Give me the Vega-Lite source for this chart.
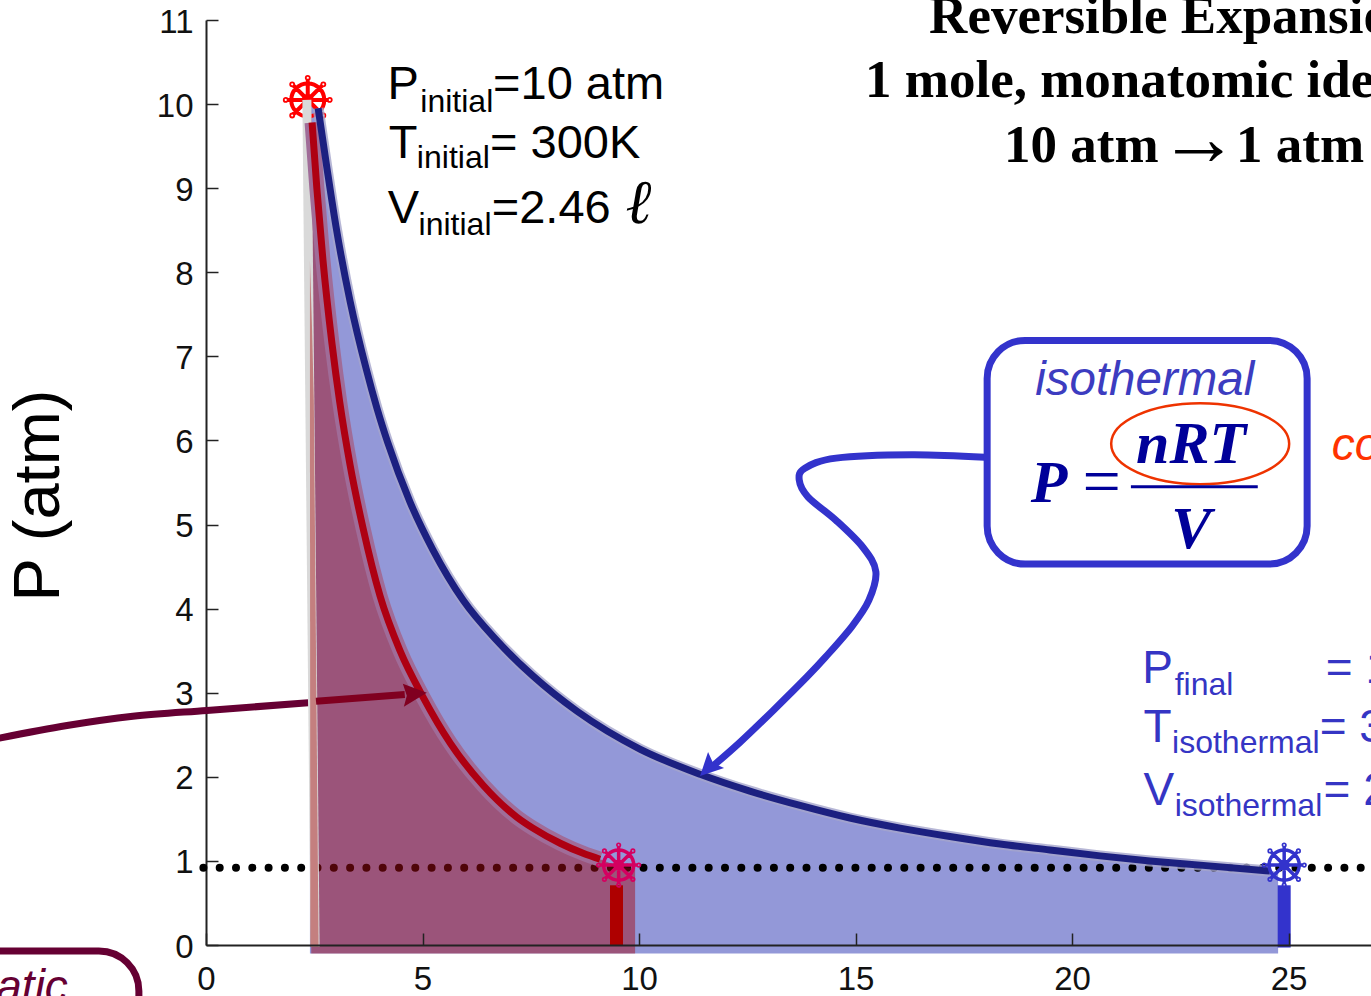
{
"$schema":"https://vega.github.io/schema/vega-lite/v6.json",
"width":1165,"height":925,
"autosize":{"type":"none"},
"padding":{"left":206,"top":20,"right":0,"bottom":51},
"background":"white",
"config":{"view":{"stroke":null}},
"datasets":{
"iso":[{"x":2.40,"y":10.0},{"x":2.59,"y":9.95},{"x":2.79,"y":9.25},{"x":3.00,"y":8.55},{"x":3.33,"y":7.65},{"x":3.70,"y":6.85},{"x":3.95,"y":6.38},{"x":4.20,"y":5.97},{"x":4.71,"y":5.27},{"x":5.24,"y":4.70},{"x":5.94,"y":4.10},{"x":6.72,"y":3.62},{"x":7.55,"y":3.20},{"x":8.57,"y":2.78},{"x":10.02,"y":2.33},{"x":11.41,"y":2.03},{"x":12.56,"y":1.83},{"x":13.72,"y":1.66},{"x":14.87,"y":1.51},{"x":16.03,"y":1.39},{"x":17.18,"y":1.29},{"x":18.34,"y":1.20},{"x":19.49,"y":1.13},{"x":20.65,"y":1.06},{"x":21.80,"y":1.00},{"x":22.96,"y":0.95},{"x":24.57,"y":0.88},{"x":24.76,"y":0.87}],
"isoLine":[{"x":2.59,"y":9.95},{"x":2.79,"y":9.25},{"x":3.00,"y":8.55},{"x":3.33,"y":7.65},{"x":3.70,"y":6.85},{"x":3.95,"y":6.38},{"x":4.20,"y":5.97},{"x":4.71,"y":5.27},{"x":5.24,"y":4.70},{"x":5.94,"y":4.10},{"x":6.72,"y":3.62},{"x":7.55,"y":3.20},{"x":8.57,"y":2.78},{"x":10.02,"y":2.33},{"x":11.41,"y":2.03},{"x":12.56,"y":1.83},{"x":13.72,"y":1.66},{"x":14.87,"y":1.51},{"x":16.03,"y":1.39},{"x":17.18,"y":1.29},{"x":18.34,"y":1.20},{"x":19.49,"y":1.13},{"x":20.65,"y":1.06},{"x":21.80,"y":1.00},{"x":22.96,"y":0.95},{"x":24.57,"y":0.88}],
"adiFill":[{"x":2.43,"y":9.99},{"x":2.45,"y":9.78},{"x":2.56,"y":9.0},{"x":2.70,"y":8.15},{"x":2.91,"y":7.15},{"x":3.09,"y":6.45},{"x":3.33,"y":5.70},{"x":3.63,"y":4.95},{"x":4.02,"y":4.15},{"x":4.48,"y":3.50},{"x":5.01,"y":2.95},{"x":5.64,"y":2.40},{"x":6.40,"y":1.90},{"x":7.18,"y":1.52},{"x":7.55,"y":1.39},{"x":8.18,"y":1.21},{"x":8.71,"y":1.09},{"x":9.10,"y":1.02},{"x":9.54,"y":0.94},{"x":9.91,"y":0.92}],
"adiLine":[{"x":2.45,"y":9.78},{"x":2.56,"y":9.0},{"x":2.70,"y":8.15},{"x":2.91,"y":7.15},{"x":3.09,"y":6.45},{"x":3.33,"y":5.70},{"x":3.63,"y":4.95},{"x":4.02,"y":4.15},{"x":4.48,"y":3.50},{"x":5.01,"y":2.95},{"x":5.64,"y":2.40},{"x":6.40,"y":1.90},{"x":7.18,"y":1.52},{"x":7.55,"y":1.39},{"x":8.18,"y":1.21},{"x":8.71,"y":1.09},{"x":9.10,"y":1.02}]
},
"encoding":{
"x":{"field":"x","type":"quantitative","scale":{"domain":[0,26.905],"nice":false,"zero":false},
"axis":{"title":null,"values":[0,5,10,15,20,25],"grid":false,"tickSize":-12,"tickColor":"#222222","tickWidth":1.5,"domainColor":"#222222","domainWidth":2,"labelFont":"Liberation Sans","labelFontSize":33,"labelColor":"#111111","labelPadding":30,"labelBaseline":"top","labelFlush":false,"labelOverlap":false,"zindex":1}},
"y":{"field":"y","type":"quantitative","scale":{"domain":[0,11],"nice":false,"zero":false},
"axis":{"title":"P (atm)","values":[0,1,2,3,4,5,6,7,8,9,10,11],"grid":false,"tickSize":-12,"tickColor":"#222222","tickWidth":1.5,"domainColor":"#222222","domainWidth":2,"labelFont":"Liberation Sans","labelFontSize":33,"labelColor":"#111111","labelPadding":25,"labelOffset":2,"labelFlush":false,"labelOverlap":false,"titleFont":"Liberation Sans","titleFontSize":65,"titleFontWeight":"normal","titleColor":"#000000","titleX":-168,"titleY":475,"titleBaseline":"middle","zindex":0}}
},
"layer":[
{"data":{"name":"iso"},"mark":{"type":"area","color":"#9398D8","interpolate":"monotone"},"encoding":{"y2":{"datum":-0.10}}},
{"data":{"values":[{"x":-0.06,"x2":26.905,"y":0.92}]},"mark":{"type":"rule","color":"#000000","strokeWidth":8,"strokeCap":"round","strokeDash":[0,16.3]},"encoding":{"x2":{"field":"x2"}}},
{"data":{"name":"adiFill"},"mark":{"type":"area","color":"#A60A12","opacity":0.48,"interpolate":"monotone"},"encoding":{"y2":{"datum":-0.10}}},
{"data":{"values":[{"x":2.35,"y":10.05}]},"mark":{"type":"point","filled":false,"color":"#FF0000","opacity":1,"size":2100,"strokeWidth":4,"shape":"M.72 0A.72 .72 0 1 1 -.72 0A.72 .72 0 1 1 .72 0ZM.18 0A.18 .18 0 1 1 -.18 0A.18 .18 0 1 1 .18 0ZM.92 0L-.92 0M0 .92L0 -.92M.65 .65L-.65 -.65M.65 -.65L-.65 .65M1 0A.04 .04 0 1 1 .92 0A.04 .04 0 1 1 1 0ZM-.92 0A.04 .04 0 1 1 -1 0A.04 .04 0 1 1 -.92 0ZM.04 .96A.04 .04 0 1 1 -.04 .96A.04 .04 0 1 1 .04 .96ZM.04 -.96A.04 .04 0 1 1 -.04 -.96A.04 .04 0 1 1 .04 -.96ZM.72 .68A.04 .04 0 1 1 .64 .68A.04 .04 0 1 1 .72 .68ZM-.64 .68A.04 .04 0 1 1 -.72 .68A.04 .04 0 1 1 -.64 .68ZM.72 -.68A.04 .04 0 1 1 .64 -.68A.04 .04 0 1 1 .72 -.68ZM-.64 -.68A.04 .04 0 1 1 -.72 -.68A.04 .04 0 1 1 -.64 -.68Z"}},
{"data":{"values":[{"x":-4.87,"y":2.45},{"x":-3.21,"y":2.61},{"x":-1.69,"y":2.72},{"x":0.02,"y":2.79},{"x":2.36,"y":2.88}]},"mark":{"type":"line","color":"#660033","strokeWidth":7,"interpolate":"monotone"}},
{"data":{"values":[{"x":2.33,"y":10.05},{"x":2.52,"y":-0.02}]},"mark":{"type":"line","color":"#D9D9D9","strokeWidth":9}},
{"data":{"values":[{"x":2.40,"x2":2.40,"y":8.15},{"x":2.40,"x2":2.45,"y":7.31},{"x":2.40,"x2":2.49,"y":6.48},{"x":2.41,"x2":2.60,"y":-0.02}]},"mark":{"type":"area","orient":"horizontal","color":"#C47F7F"},"encoding":{"x2":{"field":"x2"}}},
{"data":{"name":"isoLine"},"mark":{"type":"line","color":"#A5A5CC","strokeWidth":11,"opacity":0.8,"interpolate":"monotone"}},
{"data":{"name":"adiLine"},"mark":{"type":"line","color":"#A06C98","strokeWidth":15,"interpolate":"monotone"}},
{"data":{"name":"isoLine"},"mark":{"type":"line","color":"#1C2080","strokeWidth":7,"interpolate":"monotone"}},
{"data":{"name":"adiLine"},"mark":{"type":"line","color":"#AE0012","strokeWidth":7,"interpolate":"monotone"}},
{"data":{"values":[{"x":2.54,"y":2.90},{"x":4.59,"y":2.98}]},"mark":{"type":"line","color":"#800020","strokeWidth":7}},
{"data":{"values":[{"x":5.10,"y":3.0}]},"mark":{"type":"point","filled":true,"color":"#800020","opacity":1,"size":400,"shape":"M0 0L-2.4 -.9L-2 .3L-2.3 1.4Z"}},
{"data":{"values":[{"x":9.48,"y":0.71,"y2":0}]},"mark":{"type":"rule","color":"#AE0000","strokeWidth":13},"encoding":{"y2":{"field":"y2"}}},
{"data":{"values":[{"x":24.90,"y":0.71,"y2":-0.03}]},"mark":{"type":"rule","color":"#3333CC","strokeWidth":13},"encoding":{"y2":{"field":"y2"}}},
{"data":{"values":[{"x":9.53,"y":0.95}]},"mark":{"type":"point","filled":false,"color":"#D40060","opacity":1,"size":1750,"strokeWidth":3.5,"shape":"M.72 0A.72 .72 0 1 1 -.72 0A.72 .72 0 1 1 .72 0ZM.18 0A.18 .18 0 1 1 -.18 0A.18 .18 0 1 1 .18 0ZM.92 0L-.92 0M0 .92L0 -.92M.65 .65L-.65 -.65M.65 -.65L-.65 .65M1 0A.04 .04 0 1 1 .92 0A.04 .04 0 1 1 1 0ZM-.92 0A.04 .04 0 1 1 -1 0A.04 .04 0 1 1 -.92 0ZM.04 .96A.04 .04 0 1 1 -.04 .96A.04 .04 0 1 1 .04 .96ZM.04 -.96A.04 .04 0 1 1 -.04 -.96A.04 .04 0 1 1 .04 -.96ZM.72 .68A.04 .04 0 1 1 .64 .68A.04 .04 0 1 1 .72 .68ZM-.64 .68A.04 .04 0 1 1 -.72 .68A.04 .04 0 1 1 -.64 .68ZM.72 -.68A.04 .04 0 1 1 .64 -.68A.04 .04 0 1 1 .72 -.68ZM-.64 -.68A.04 .04 0 1 1 -.72 -.68A.04 .04 0 1 1 -.64 -.68Z"}},
{"data":{"values":[{"x":24.90,"y":0.95}]},"mark":{"type":"point","filled":false,"color":"#3333CC","opacity":1,"size":1750,"strokeWidth":3.5,"shape":"M.72 0A.72 .72 0 1 1 -.72 0A.72 .72 0 1 1 .72 0ZM.18 0A.18 .18 0 1 1 -.18 0A.18 .18 0 1 1 .18 0ZM.92 0L-.92 0M0 .92L0 -.92M.65 .65L-.65 -.65M.65 -.65L-.65 .65M1 0A.04 .04 0 1 1 .92 0A.04 .04 0 1 1 1 0ZM-.92 0A.04 .04 0 1 1 -1 0A.04 .04 0 1 1 -.92 0ZM.04 .96A.04 .04 0 1 1 -.04 .96A.04 .04 0 1 1 .04 .96ZM.04 -.96A.04 .04 0 1 1 -.04 -.96A.04 .04 0 1 1 .04 -.96ZM.72 .68A.04 .04 0 1 1 .64 .68A.04 .04 0 1 1 .72 .68ZM-.64 .68A.04 .04 0 1 1 -.72 .68A.04 .04 0 1 1 -.64 .68ZM.72 -.68A.04 .04 0 1 1 .64 -.68A.04 .04 0 1 1 .72 -.68ZM-.64 -.68A.04 .04 0 1 1 -.72 -.68A.04 .04 0 1 1 -.64 -.68Z"}},
{"data":{"values":[{"i":0,"x":17.99,"y":5.80},{"i":1,"x":16.30,"y":5.83},{"i":2,"x":14.55,"y":5.79},{"i":3,"x":13.83,"y":5.67},{"i":4,"x":13.70,"y":5.53},{"i":5,"x":13.90,"y":5.33},{"i":6,"x":14.55,"y":5.05},{"i":7,"x":15.17,"y":4.73},{"i":8,"x":15.47,"y":4.44},{"i":9,"x":15.31,"y":4.10},{"i":10,"x":14.92,"y":3.79},{"i":11,"x":14.30,"y":3.42},{"i":12,"x":13.88,"y":3.19},{"i":13,"x":13.10,"y":2.79},{"i":14,"x":12.33,"y":2.41},{"i":15,"x":11.71,"y":2.13}]},"mark":{"type":"line","color":"#3333CC","strokeWidth":7,"interpolate":"cardinal"},"encoding":{"order":{"field":"i"}}},
{"data":{"values":[{"x":11.41,"y":2.01}]},"mark":{"type":"point","filled":true,"color":"#3333CC","opacity":1,"size":400,"shape":"M0 0L.8 -2.4L1.3 -1.3L2.4 -.8Z"}},
{"data":{"values":[{"x":18.04,"x2":25.43,"y":7.19,"y2":4.53}]},"mark":{"type":"rect","fill":"transparent","stroke":"#3333CC","strokeWidth":7,"cornerRadius":38},"encoding":{"x2":{"field":"x2"},"y2":{"field":"y2"}}},
{"data":{"values":[{"x":-7.07,"x2":-1.55,"y":-0.07,"y2":-1.37}]},"mark":{"type":"rect","fill":"transparent","stroke":"#660033","strokeWidth":7,"cornerRadius":40},"encoding":{"x2":{"field":"x2"},"y2":{"field":"y2"}}},
{"data":{"values":[{"x":22.96,"y":5.96}]},"mark":{"type":"point","filled":false,"color":"#EE3300","opacity":1,"size":31684,"strokeWidth":2.5,"shape":"M1 0A1 .455 0 1 1 -1 0A1 .455 0 1 1 1 0Z"}},
{"data":{"values":[{"x":21.36,"x2":24.29,"y":5.45}]},"mark":{"type":"rule","color":"#000099","strokeWidth":3},"encoding":{"x2":{"field":"x2"}}},
{"data":{"values":[{"t":"P","x":4.19,"y":10.06},{"t":"=10 atm","x":6.63,"y":10.06},{"t":"T","x":4.22,"y":9.36},{"t":"= 300K","x":6.56,"y":9.36},{"t":"V","x":4.20,"y":8.59},{"t":"=2.46","x":6.60,"y":8.59}]},"mark":{"type":"text","font":"Liberation Sans","fontSize":47,"align":"left","baseline":"alphabetic","color":"#000000"},"encoding":{"text":{"field":"t","type":"nominal"}}},
{"data":{"values":[{"t":"ℓ","x":9.69,"y":8.59}]},"mark":{"type":"text","font":"Liberation Serif","fontSize":62,"fontStyle":"italic","align":"left","baseline":"alphabetic","color":"#000000"},"encoding":{"text":{"field":"t","type":"nominal"}}},
{"data":{"values":[{"t":"initial","x":4.95,"y":9.91},{"t":"initial","x":4.87,"y":9.24},{"t":"initial","x":4.91,"y":8.44}]},"mark":{"type":"text","font":"Liberation Sans","fontSize":32,"align":"left","baseline":"alphabetic","color":"#000000"},"encoding":{"text":{"field":"t","type":"nominal"}}},
{"data":{"values":[{"t":"Reversible Expansio","x":16.70,"y":10.85},{"t":"1 mole, monatomic ide","x":15.22,"y":10.08},{"t":"10 atm","x":18.43,"y":9.31},{"t":"1 atm","x":23.79,"y":9.31}]},"mark":{"type":"text","font":"Liberation Serif","fontSize":53,"fontWeight":"bold","align":"left","baseline":"alphabetic","color":"#000000"},"encoding":{"text":{"field":"t","type":"nominal"}}},
{"data":{"values":[{"t":"→","x":22.01,"y":9.28}]},"mark":{"type":"text","font":"Liberation Serif","fontSize":80,"fontWeight":"bold","align":"left","baseline":"alphabetic","color":"#000000"},"encoding":{"text":{"field":"t","type":"nominal"}}},
{"data":{"values":[{"t":"isothermal","x":19.15,"y":6.54}]},"mark":{"type":"text","font":"Liberation Sans","fontSize":47.5,"fontStyle":"italic","align":"left","baseline":"alphabetic","color":"#3C3CC0"},"encoding":{"text":{"field":"t","type":"nominal"}}},
{"data":{"values":[{"t":"P","x":19.05,"y":5.27},{"t":"nRT","x":21.48,"y":5.73},{"t":"V","x":22.29,"y":4.72}]},"mark":{"type":"text","font":"Liberation Serif","fontSize":60,"fontStyle":"italic","fontWeight":"bold","align":"left","baseline":"alphabetic","color":"#000099"},"encoding":{"text":{"field":"t","type":"nominal"}}},
{"data":{"values":[{"t":"=","x":20.24,"y":5.25}]},"mark":{"type":"text","font":"Liberation Serif","fontSize":68,"align":"left","baseline":"alphabetic","color":"#000099"},"encoding":{"text":{"field":"t","type":"nominal"}}},
{"data":{"values":[{"t":"co","x":26.0,"y":5.77}]},"mark":{"type":"text","font":"Liberation Sans","fontSize":46,"fontStyle":"italic","align":"left","baseline":"alphabetic","color":"#FF3300"},"encoding":{"text":{"field":"t","type":"nominal"}}},
{"data":{"values":[{"t":"atic","x":-3.19,"y":-0.68}]},"mark":{"type":"text","font":"Liberation Sans","fontSize":46,"fontStyle":"italic","align":"right","baseline":"alphabetic","color":"#660033"},"encoding":{"text":{"field":"t","type":"nominal"}}},
{"data":{"values":[{"t":"P","x":21.62,"y":3.12},{"t":"= 1","x":25.86,"y":3.12},{"t":"T","x":21.65,"y":2.41},{"t":"= 3","x":25.72,"y":2.41},{"t":"V","x":21.65,"y":1.66},{"t":"= 2","x":25.81,"y":1.66}]},"mark":{"type":"text","font":"Liberation Sans","fontSize":46,"align":"left","baseline":"alphabetic","color":"#3535C4"},"encoding":{"text":{"field":"t","type":"nominal"}}},
{"data":{"values":[{"t":"final","x":22.37,"y":2.97},{"t":"isothermal","x":22.31,"y":2.28},{"t":"isothermal","x":22.37,"y":1.54}]},"mark":{"type":"text","font":"Liberation Sans","fontSize":32,"align":"left","baseline":"alphabetic","color":"#3535C4"},"encoding":{"text":{"field":"t","type":"nominal"}}}
]
}
